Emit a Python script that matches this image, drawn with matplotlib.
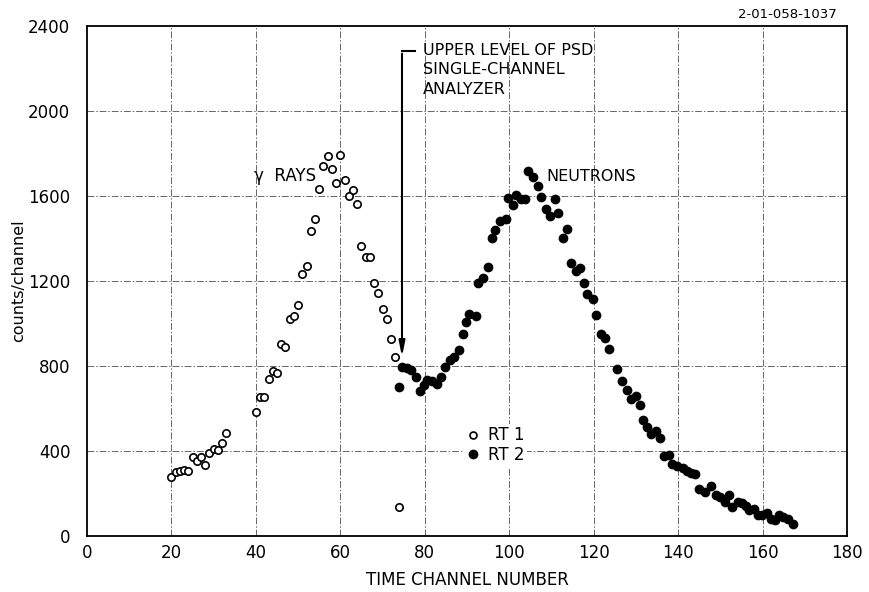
import matplotlib
matplotlib.use('Agg')
import matplotlib.pyplot as plt
from matplotlib.lines import Line2D

# RT 1 (open circles) - gamma peak
rt1_channel = [20, 21, 22, 23, 24, 25, 26, 27, 28, 29, 30, 31, 32, 33,
               40, 41, 42, 43, 44, 45, 46, 47, 48, 49, 50, 51, 52, 53, 54,
               55, 56, 57, 58, 59, 60, 61, 62, 63, 64, 65, 66, 67, 68, 69,
               70, 71, 72, 73, 74]
rt1_counts = [279, 301, 306, 311, 306, 373, 352, 370, 334, 389, 411, 406, 439, 483,
              585, 654, 654, 740, 778, 766, 902, 889, 1023, 1034, 1086, 1232, 1271,
              1437, 1493, 1633, 1743, 1787, 1726, 1661, 1792, 1675, 1599, 1628, 1561,
              1366, 1311, 1311, 1191, 1142, 1070, 1023, 927, 842, 138]

# RT 2 (filled circles) - neutron peak
rt2_channel = [73.9, 74.7, 75.9, 76.8, 77.9, 78.8, 79.7, 80.6, 81.8, 82.8,
               83.8, 84.9, 86.0, 87.0, 88.0, 89.0, 89.8, 90.5, 92.1, 92.7,
               93.9, 94.9, 95.9, 96.7, 97.8, 99.2, 99.6, 100.8, 101.5, 102.8,
               103.8, 104.5, 105.6, 106.7, 107.6, 108.6, 109.6, 110.9, 111.6, 112.7,
               113.7, 114.6, 115.8, 116.8, 117.6, 118.5, 119.8, 120.6, 121.7, 122.7,
               123.7, 125.5, 126.7, 127.8, 128.8, 130.0, 131.0, 131.6, 132.7, 133.6,
               134.8, 135.7, 136.7, 137.8, 138.6, 139.8, 141.1, 142.0, 143.1, 144.0,
               144.9, 146.4, 147.8, 148.9, 149.9, 151.1, 152.0, 152.8, 154.1, 155.1,
               156.0, 156.8, 158.0, 158.8, 159.9, 161.1, 161.9, 163.0, 163.9, 164.9,
               166.1, 167.3]
rt2_counts = [700, 794, 792, 781, 747, 681, 709, 734, 729, 714,
              747, 797, 828, 841, 874, 952, 1007, 1045, 1037, 1189,
              1213, 1267, 1401, 1440, 1481, 1490, 1592, 1558, 1605, 1584,
              1588, 1718, 1688, 1647, 1597, 1540, 1507, 1584, 1520, 1401,
              1446, 1283, 1246, 1263, 1192, 1139, 1115, 1040, 952, 930,
              879, 787, 729, 687, 646, 660, 615, 544, 514, 481,
              494, 461, 376, 380, 339, 331, 318, 307, 295, 290,
              220, 209, 237, 194, 185, 158, 193, 135, 158, 154,
              143, 122, 127, 97, 99, 107, 79, 77, 99, 89,
              79, 56]

x_ticks = list(range(0, 181, 20))
y_ticks = list(range(0, 2401, 400))

plt.rcParams['font.family'] = ['DejaVu Sans']

fig = plt.figure(figsize=(8.7, 5.92), dpi=100)
ax = fig.add_axes([0.1, 0.0946, 0.8736, 0.8615])

# dash-dot grid, like the drafting paper
grid_kw = dict(color='#666666', lw=0.7, dashes=(7, 2, 1.5, 2), zorder=0)
for gx in x_ticks[1:-1]:
    ax.axvline(gx, **grid_kw)
for gy in y_ticks[1:-1]:
    ax.axhline(gy, **grid_kw)

ax.plot(rt1_channel, rt1_counts, 'o', ls='none', ms=5.3, mfc='white',
        mec='black', mew=1.2, zorder=3, label='RT 1')
ax.plot(rt2_channel, rt2_counts, 'o', ls='none', ms=6, mfc='black',
        mec='black', zorder=3, label='RT 2')

ax.set_xlim(0, 180)
ax.set_ylim(0, 2400)
ax.set_xticks(x_ticks)
ax.set_yticks(y_ticks)
ax.tick_params(length=0, labelsize=12)
ax.tick_params(axis='y', pad=12)
ax.tick_params(axis='x', pad=6)
for s in ax.spines.values():
    s.set_linewidth(1.3)

ax.set_xlabel('TIME CHANNEL NUMBER', fontsize=12)
ax.xaxis.set_label_coords(0.5, -0.068)
ax.set_ylabel('counts/channel', fontsize=11.5)
ax.yaxis.set_label_coords(-0.08, 0.5)

# annotations
ax.text(39.6, 1694, 'γ  RAYS', fontsize=12, ha='left', va='center')
ax.text(108.7, 1694, 'NEUTRONS', fontsize=11.5, ha='left', va='center')

ax.annotate('', xy=(74.6, 830), xytext=(74.6, 2283),
            arrowprops=dict(arrowstyle='-|>,head_length=0.9,head_width=0.18',
                            color='black', lw=1.5))
ax.plot([74.6, 77.6], [2283, 2283], color='black', lw=1.5)
ax.text(79.6, 2322, 'UPPER LEVEL OF PSD\nSINGLE-CHANNEL\nANALYZER',
        fontsize=11.5, ha='left', va='top', linespacing=1.4)

handles = [Line2D([], [], marker='o', ls='none', ms=5, mfc='white', mec='black', mew=1.2),
           Line2D([], [], marker='o', ls='none', ms=6, mfc='black', mec='black')]
leg = ax.legend(handles, ['RT 1', 'RT 2'], loc='upper left',
                bbox_to_anchor=(0.485, 0.236), frameon=True, fancybox=False,
                edgecolor='none', facecolor='white', framealpha=1,
                handlelength=0.8, handletextpad=0.5, labelspacing=0.1,
                borderpad=0.15, fontsize=12)

fig.text(837 / 870, 1 - 14 / 592, '2-01-058-1037', fontsize=9.5,
         ha='right', va='center')

fig.savefig('out.png', dpi=100, facecolor='white')
